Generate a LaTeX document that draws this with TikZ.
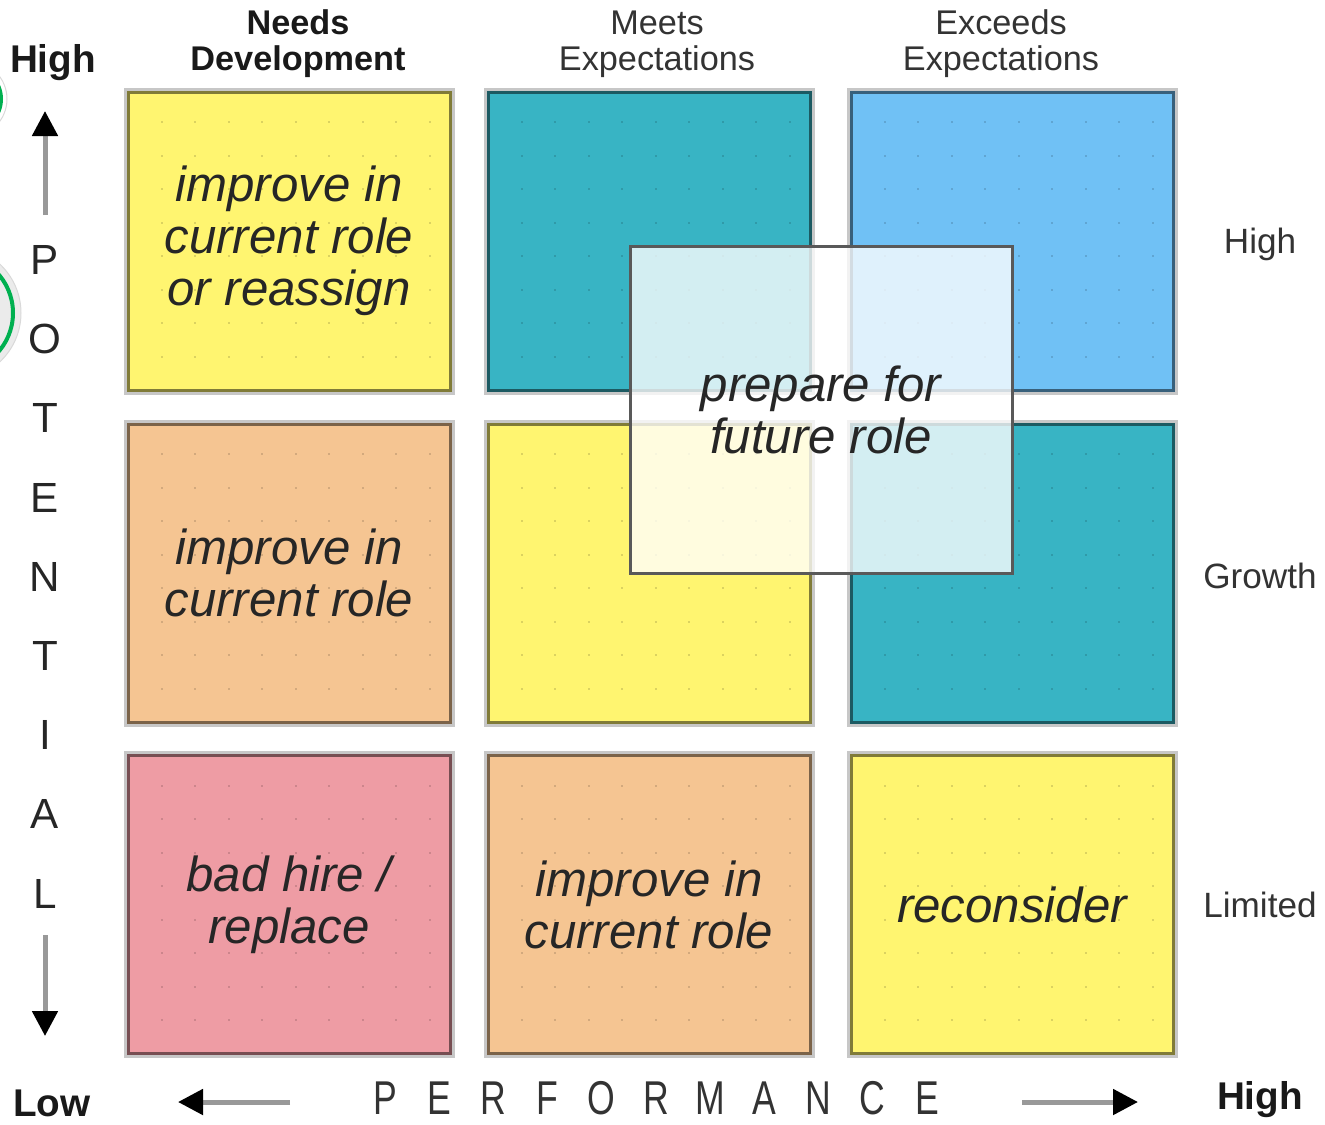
\documentclass[tikz,border=0pt]{standalone}
\usepackage{fontspec}
\setmainfont{Liberation Sans}
\usetikzlibrary{positioning,arrows.meta}
\definecolor{cellyellow}{RGB}{255,245,112}
\definecolor{cellteal}{RGB}{56,180,196}
\definecolor{cellblue}{RGB}{112,193,245}
\definecolor{cellorange}{RGB}{245,197,146}
\definecolor{cellpink}{RGB}{238,156,164}
\definecolor{ringgreen}{RGB}{0,176,80}

\begin{document}
\begin{tikzpicture}[
    cell/.style={draw=#1!50!black, fill=#1, line width=0.06cm,
      minimum width=6.44cm, minimum height=5.96cm, inner sep=0pt, outer sep=0pt,
      align=center, text=black!85, font=\fontsize{28}{29.5}\selectfont\itshape,
      preaction={draw=black!22, line width=0.18cm},
      path picture={\foreach \i in {1,...,9} \foreach \j in {1,...,8}
        \fill[black, opacity=0.14] ([shift={(\i*0.67-0.02,\j*0.67-0.02)}]path picture bounding box.south west) rectangle ++(0.04,0.04);}},
    futbox/.style={draw=black!65, fill=white, fill opacity=0.78, text opacity=1,
      line width=0.06cm, minimum width=7.64cm, minimum height=6.54cm, inner sep=0pt,
      align=center, text=black!85, font=\fontsize{28}{29.5}\selectfont\itshape},
    hdr/.style={align=center, text=black!80, font=\fontsize{19.5}{20.5}\selectfont},
    lvl/.style={text=black!80, font=\fontsize{20}{20}\selectfont},
    ends/.style={text=black!90, font=\fontsize{22}{22}\selectfont\bfseries, inner sep=1pt},
    potletter/.style={text=black!85, font=\fontsize{24}{24}\selectfont},
    perfletter/.style={text=black!80, font=\fontsize{27}{27}\selectfont, inner sep=0pt},
    axis/.style={draw=black!40, line width=0.1cm, -{Triangle[length=0.5cm, width=0.5cm, color=black]}}
  ]
  \useasboundingbox (0,0) rectangle (26.5,-22.48);

  % cut-off rings at the left edge
  \begin{scope}
    \clip (0,0) rectangle (26.5,-22.48);
    \draw[black!15, line width=0.02cm] (-0.62,-1.98) circle (0.76cm);
    \draw[ringgreen, line width=0.08cm] (-0.62,-1.98) circle (0.64cm);
    \draw[black!15, line width=0.02cm, fill=black!8] (-0.92,-6.26) circle (1.34cm);
    \draw[ringgreen, line width=0.08cm] (-0.92,-6.26) circle (1.18cm);
  \end{scope}

  % the nine cells
  \node[cell=cellyellow] (c11) at (5.78,-4.82) {improve in\\current role\\or reassign};
  \node[cell=cellteal, on grid, right=7.2cm of c11] (c12) {};
  \node[cell=cellblue, on grid, right=7.26cm of c12] (c13) {};
  \node[cell=cellorange, on grid, below=6.64cm of c11] (c21) {improve in\\current role};
  \node[cell=cellyellow, on grid, right=7.2cm of c21] (c22) {};
  \node[cell=cellteal, on grid, right=7.26cm of c22] (c23) {};
  \node[cell=cellpink, on grid, below=6.63cm of c21] (c31) {bad hire /\\replace};
  \node[cell=cellorange, on grid, right=7.2cm of c31] (c32) {improve in\\current role};
  \node[cell=cellyellow, on grid, right=7.26cm of c32] (c33) {reconsider};

  \node[futbox, on grid, below right=3.37cm and 3.44cm of c12] (fut) {prepare for\\future role};

  % column heads
  \node[hdr, on grid, above right=3.94cm and 0.18cm of c11, font=\fontsize{19.5}{20.5}\selectfont\bfseries, text=black!90] (hNeeds) {Needs\\Development};
  \node[hdr, on grid, above right=3.94cm and 0.16cm of c12] (hMeets) {Meets\\Expectations};
  \node[hdr, on grid, above left=3.94cm and 0.22cm of c13] (hExceeds) {Exceeds\\Expectations};

  % row levels
  \node[lvl, on grid, below right=0.06cm and 4.96cm of c13] (lHigh) {High};
  \node[lvl, on grid, below right=0.06cm and 4.96cm of c23] (lGrowth) {Growth};
  \node[lvl, on grid, right=4.96cm of c33] (lLimited) {Limited};

  % potential axis
  \node[ends] (yHigh) at (1.06,-1.26) {High};
  \foreach \l [count=\k] in {P,O,T,E,N,T,I,A,L}
    \node[potletter] (pot\k) at (0.9,-5.2-\k*1.584+1.584) {\l};
  \coordinate (upStart) at (0.9,-4.3);
  \coordinate (upEnd) at (0.9,-2.22);
  \coordinate (downStart) at (0.9,-18.7);
  \coordinate (downEnd) at (0.9,-20.72);
  \draw[axis] (upStart) -- (upEnd);
  \draw[axis] (downStart) -- (downEnd);

  % performance axis
  \node[ends] (xLow) at (1.04,-22.06) {Low};
  \node[ends] (xHigh) at (25.2,-22.0) {High};
  \foreach \l [count=\k] in {P,E,R,F,O,R,M,A,N,C,E}
    \node[perfletter] (perf\k) at (7.7+\k*1.084-1.084,-21.96) {\scalebox{0.75}[1]{\l}};
  \coordinate (leftStart) at (5.8,-22.04);
  \coordinate (leftEnd) at (3.56,-22.04);
  \coordinate (rightStart) at (20.44,-22.04);
  \coordinate (rightEnd) at (22.76,-22.04);
  \draw[axis] (leftStart) -- (leftEnd);
  \draw[axis] (rightStart) -- (rightEnd);
\end{tikzpicture}
\end{document}
